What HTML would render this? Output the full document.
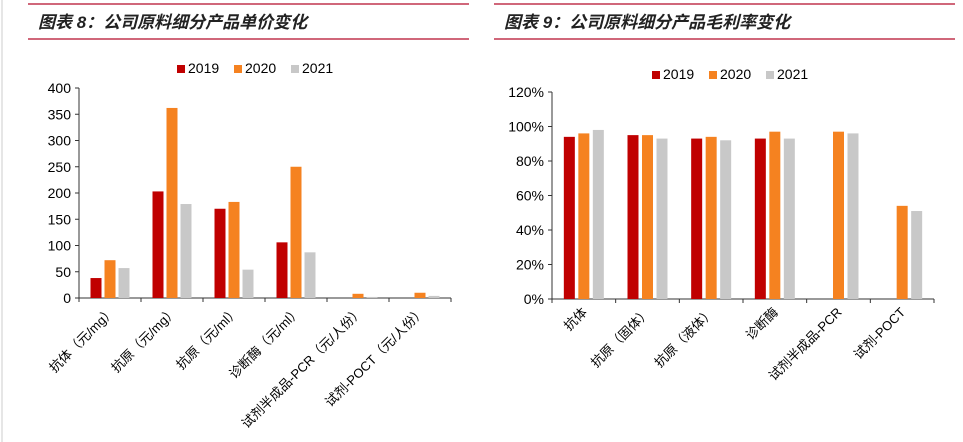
<!DOCTYPE html>
<html><head><meta charset="utf-8"><style>
body{margin:0;background:#fff;width:963px;height:442px;overflow:hidden;font-family:"Liberation Sans","Noto Sans CJK SC",sans-serif}
svg{position:absolute;left:0;top:0}
</style></head><body>
<svg width="963" height="442">
<line x1="2" y1="0" x2="2" y2="442" stroke="#ccc"/>
<g id="L"></g>
<g id="R"></g>
</svg>
<script>
const cats1=["抗体（元/mg）","抗原（元/mg）","抗原（元/ml）","诊断酶（元/ml）","试剂半成品-PCR（元/人份）","试剂-POCT（元/人份）"];
const p2019=[38,203,170,106,0,0];
const p2020=[72,362,183,250,8,10];
const p2021=[57,179,54,87,2,4];
const ticks1=[0,50,100,150,200,250,300,350,400];
const cats2=["抗体","抗原（固体）","抗原（液体）","诊断酶","试剂半成品-PCR","试剂-POCT"];
const m2019=[94,95,93,93,null,null];
const m2020=[96,95,94,97,97,54];
const m2021=[98,93,92,93,96,51];
const ticks2=[0,20,40,60,80,100,120];
const years=["2019","2020","2021"];
const colors=["#c00000","#f58220","#c8c8c8"];
const NS="http://www.w3.org/2000/svg";
function mk(p,t,a,txt){const e=document.createElementNS(NS,t);for(const k in a)e.setAttribute(k,a[k]);if(txt!=null)e.textContent=txt;p.appendChild(e);return e;}
function chart(g,o){
  let e;
  e=mk(g,"line",{x1:o.tx1,y1:4,x2:o.tx2,y2:4,stroke:"#c0354e","stroke-width":1.5});
  
  
  e=mk(g,"line",{x1:o.tx1,y1:39,x2:o.tx2,y2:39,stroke:"#c0354e","stroke-width":1.5});
  
  
  e=mk(g,"text",{x:o.tx1+10,y:28,"font-size":17,"font-weight":"bold","font-style":"italic",fill:"#222"},o.title);
  
  
  // legend
  years.forEach((y,i)=>{
    const lx=o.legX+i*57;
    let r=mk(g,"rect",{x:lx,y:o.legY-8,width:8,height:8,fill:colors[i]});
    
    
    let t=mk(g,"text",{x:lx+11,y:o.legY,"font-size":14,fill:"#000"},y);
    
    
  });
  const yS=v=>o.y0-(v-0)/(o.ymax)*(o.y0-o.ytop);
  const n=o.cats.length, cw=(o.x1-o.x0)/n;
  e=mk(g,"line",{x1:o.x0,y1:o.ytop,x2:o.x0,y2:o.y0,stroke:"#333"});
  
  
  e=mk(g,"line",{x1:o.x0,y1:o.y0,x2:o.x1,y2:o.y0,stroke:"#333"});
  
  
  o.ticks.forEach(v=>{
    let l=mk(g,"line",{x1:o.x0-4,y1:yS(v),x2:o.x0,y2:yS(v),stroke:"#333"});
    
    
    let t=mk(g,"text",{x:o.x0-8,y:yS(v)+5,"font-size":14,"text-anchor":"end",fill:"#000"},v+o.suf);
    
    
  });
  for(let i=0;i<=n;i++){
    let l=mk(g,"line",{x1:o.x0+i*cw,y1:o.y0,x2:o.x0+i*cw,y2:o.y0+4,stroke:"#333"});
    
    
  }
  o.cats.forEach((c,i)=>{
    const cx=o.x0+(i+0.5)*cw;
    o.series.forEach((s,j)=>{
      if(s[i]==null)return;
      const bx=cx+(j-1)*o.sp-5.5;
      let r=mk(g,"rect",{x:bx,y:yS(s[i]),width:11,height:o.y0-yS(s[i]),fill:colors[j]});
      
      
    });
    const lx=cx+o.lo, ly=o.y0+14;
    let t=mk(g,"text",{x:lx,y:ly,"font-size":13,"text-anchor":"end",fill:"#000",transform:`rotate(-45 ${lx} ${ly})`},c);
    
    
  });
}
chart(document.getElementById("L"),{tx1:28,tx2:469,title:"图表 8：公司原料细分产品单价变化",legX:177,legY:73,x0:79,x1:451,y0:298,ytop:88,ymax:400,ticks:ticks1,suf:"",cats:cats1,series:[p2019,p2020,p2021],sp:14,lo:6});
chart(document.getElementById("R"),{tx1:494,tx2:955,title:"图表 9：公司原料细分产品毛利率变化",legX:652,legY:79,x0:552,x1:934,y0:299,ytop:92,ymax:120,ticks:ticks2,suf:"%",cats:cats2,series:[m2019,m2020,m2021],sp:14.5,lo:4});
</script>
</body></html>
